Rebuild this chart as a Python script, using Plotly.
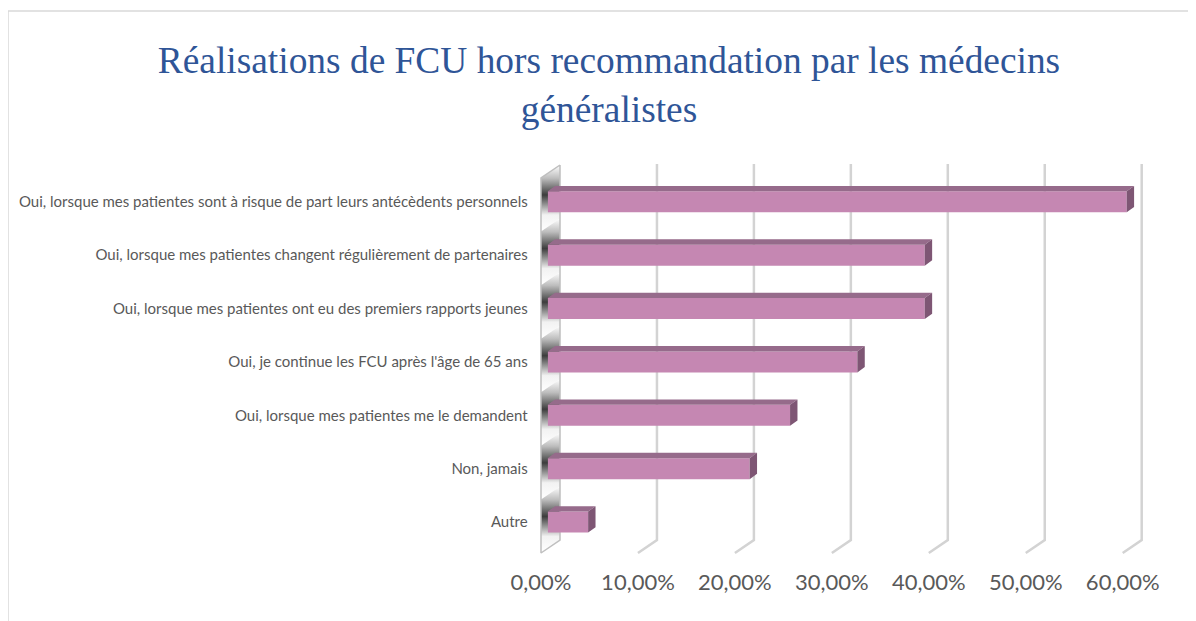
import plotly.graph_objects as go

# ---------------- data ----------------
categories = [
    "Oui, lorsque mes patientes sont à risque de part leurs antécèdents personnels",
    "Oui, lorsque mes patientes changent régulièrement de partenaires",
    "Oui, lorsque mes patientes ont eu des premiers rapports jeunes",
    "Oui, je continue les FCU après l'âge de 65 ans",
    "Oui, lorsque mes patientes me le demandent",
    "Non, jamais",
    "Autre",
]
values = [59.72, 38.89, 38.89, 31.94, 25.00, 20.83, 4.17]   # percent
tick_values = [0, 10, 20, 30, 40, 50, 60]
tick_labels = ["0,00%", "10,00%", "20,00%", "30,00%", "40,00%", "50,00%", "60,00%"]
title_text = "Réalisations de FCU hors recommandation par les médecins<br>généralistes"

# ---------------- geometry (pixels, screenshot coordinates) ----------------
W, H = 1196, 621
OX, OY = 8, 8        # page body offset
PX_PER_PCT = 9.695
BACK_X0 = 560.0      # 0 % on back wall
BAR_X0 = 547.7       # 0 % on bar front face
FLOOR_X0 = 541.0     # 0 % on front edge of floor
WALL_TOP, WALL_BOTTOM = 165.0, 540.0
FLOOR_DY = 13.0      # vertical shift back -> front
BAR_TOP, BAR_BOTTOM = 175.1, 548.7
BAR_W = 0.394        # fraction of band
SIDE_DX_PX, TOP_DY_PX = 7.4, 5.3

FRONT_C = "#C587B2"
TOP_C = "#966B8B"
SIDE_C = "#7E5674"
GRID_C = "#D3D3D3"
TXT_C = "#595959"


def px_x(p):
    return (p - OX) / W


def px_y(p):
    return 1 - (p - OY) / H


fig = go.Figure()

# ---------- subplot 1 (x / y): side wall, gridlines ----------
XL, XR = 530.0, 1150.0
x1_range = [(XL - BACK_X0) / PX_PER_PCT, (XR - BACK_X0) / PX_PER_PCT]
depth_pct = (BACK_X0 - FLOOR_X0) / PX_PER_PCT

n = len(categories)
band_h = (WALL_BOTTOM - WALL_TOP) / n
for i in range(n):
    t0 = WALL_TOP + i * band_h
    t1 = t0 + band_h
    fig.add_trace(go.Scatter(
        x=[0, 0, -depth_pct, -depth_pct, 0],
        y=[t0, t1, t1 + FLOOR_DY, t0 + FLOOR_DY, t0],
        mode="lines", line=dict(width=0), fill="toself",
        fillgradient=dict(type="vertical",
                          colorscale=[[0, "#ffffff"], [0.25, "#f2f2f2"], [0.55, "#3c3c3c"],
                                      [0.8, "#bdbdbd"], [1, "#ffffff"]]),
        hoverinfo="skip", showlegend=False, xaxis="x", yaxis="y"))

fig.add_trace(go.Scatter(
    x=[0, 0, -depth_pct, -depth_pct, 0],
    y=[WALL_TOP, WALL_BOTTOM, WALL_BOTTOM + FLOOR_DY, WALL_TOP + FLOOR_DY, WALL_TOP],
    mode="lines", line=dict(color="#BFBFBF", width=1.5),
    hoverinfo="skip", showlegend=False, xaxis="x", yaxis="y"))

gx, gy = [], []
for t in tick_values[1:]:
    gx += [t, t, t - depth_pct, None]
    gy += [WALL_TOP - 1, WALL_BOTTOM, WALL_BOTTOM + FLOOR_DY, None]
fig.add_trace(go.Scatter(x=gx, y=gy, mode="lines",
                         line=dict(color=GRID_C, width=2.5),
                         hoverinfo="skip", showlegend=False, xaxis="x", yaxis="y"))

# ---------- subplot 2 (x2 / y2): 3-D bars ----------
band_px = (BAR_BOTTOM - BAR_TOP) / n
dx = SIDE_DX_PX / PX_PER_PCT
dy = TOP_DY_PX / band_px
h = BAR_W / 2
idx = list(range(n))

fig.add_trace(go.Bar(x=values, y=idx, orientation="h", width=BAR_W,
                     marker=dict(color=FRONT_C, line=dict(width=0)),
                     showlegend=False, xaxis="x2", yaxis="y2"))

tx, ty, sx, sy = [], [], [], []
for i, v in zip(idx, values):
    tx += [0, v, v + dx, dx, 0, None]
    ty += [i - h, i - h, i - h - dy, i - h - dy, i - h, None]
    sx += [v, v + dx, v + dx, v, v, None]
    sy += [i - h, i - h - dy, i + h - dy, i + h, i - h, None]
fig.add_trace(go.Scatter(x=tx, y=ty, mode="lines", fill="toself", fillcolor=TOP_C,
                         line=dict(width=0), hoverinfo="skip", showlegend=False,
                         xaxis="x2", yaxis="y2"))
fig.add_trace(go.Scatter(x=sx, y=sy, mode="lines", fill="toself", fillcolor=SIDE_C,
                         line=dict(width=0), hoverinfo="skip", showlegend=False,
                         xaxis="x2", yaxis="y2"))

# ---------- subplot 3 (x3 / y3): value axis labels ----------
fig.add_trace(go.Scatter(x=[None], y=[None], mode="markers", showlegend=False,
                         hoverinfo="skip", xaxis="x3", yaxis="y3"))

X2_MAX = 62
fig.update_layout(
    width=W, height=H, autosize=False,
    margin=dict(l=0, r=0, t=0, b=0, pad=0, autoexpand=False),
    paper_bgcolor="white", plot_bgcolor="rgba(0,0,0,0)",
    showlegend=False,
    title=dict(text=title_text, x=px_x(609), xanchor="center", y=px_y(73), yanchor="middle",
               automargin=False,
               font=dict(family="Liberation Serif", size=37.4, color="#2F5597")),
    xaxis=dict(domain=[px_x(XL), px_x(XR)], range=x1_range, visible=False, automargin=False),
    yaxis=dict(domain=[0, 1], range=[H + OY, OY], visible=False, automargin=False),
    xaxis2=dict(domain=[px_x(BAR_X0), px_x(BAR_X0 + X2_MAX * PX_PER_PCT)], range=[0, X2_MAX],
                anchor="y2", showgrid=False, zeroline=False, showticklabels=False, showline=False,
                automargin=False),
    yaxis2=dict(domain=[px_y(BAR_BOTTOM), px_y(BAR_TOP)], range=[n - 0.5, -0.5],
                anchor="x2", tickvals=idx, ticktext=categories, ticks="",
                showgrid=False, zeroline=False, showline=False, ticklabelstandoff=19,
                automargin=False,
                tickfont=dict(family="Lato", size=15, color=TXT_C)),
    xaxis3=dict(domain=[px_x(FLOOR_X0), px_x(FLOOR_X0 + 60 * PX_PER_PCT)], range=[0, 60],
                anchor="y3", tickvals=tick_values, ticktext=tick_labels,
                ticks="", showgrid=False, zeroline=False, showline=False, ticklabelstandoff=14,
                automargin=False,
                tickfont=dict(family="Lato", size=22, color=TXT_C)),
    yaxis3=dict(domain=[px_y(WALL_BOTTOM + FLOOR_DY), px_y(WALL_BOTTOM + FLOOR_DY) + 0.01],
                anchor="x3", visible=False, automargin=False),
    shapes=[dict(type="rect", xref="paper", yref="paper",
                 x0=px_x(8), x1=1.05, y0=-0.05, y1=px_y(11),
                 line=dict(color="#D9D9D9", width=1.5), fillcolor="rgba(0,0,0,0)", layer="below")],
)

fig.write_html("out.html", config={"responsive": False})
